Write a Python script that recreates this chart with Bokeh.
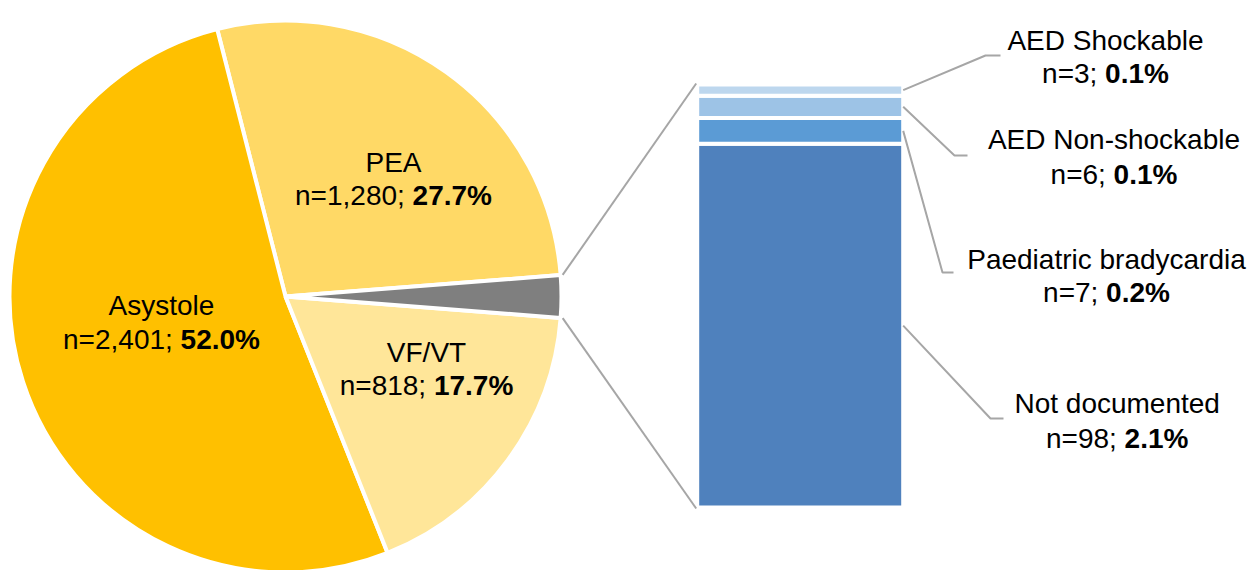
import math
from bokeh.plotting import figure
from bokeh.models import Range1d
from bokeh.core.properties import value
from bokeh.embed import file_html
from bokeh.resources import INLINE

# ---------------- data ----------------
pie_labels = ["PEA", "Asystole", "VF/VT"]
pie_counts = [1280, 2401, 818]
pie_pcts = ["27.7%", "52.0%", "17.7%"]
pie_colors = ["#FFD966", "#FFC000", "#FFE699"]

bar_labels = ["Not documented", "Paediatric bradycardia", "AED Non-shockable", "AED Shockable"]
bar_counts = [98, 7, 6, 3]
bar_pcts = ["2.1%", "0.2%", "0.1%", "0.1%"]
bar_colors = ["#4F81BD", "#5B9BD5", "#9DC3E6", "#BDD7EE"]
other_color = "#7F7F7F"

# ---------------- layout ----------------
W, H = 1253, 570
PAGE_H = 570
FONT = "Liberation Sans"
FS = 28


def Y(sy):
    return PAGE_H - sy


p = figure(width=W, height=H, x_range=Range1d(0, W), y_range=Range1d(0, H),
           output_backend="svg", toolbar_location=None, x_axis_type=None, y_axis_type=None,
           min_border=0, outline_line_color=None, background_fill_color="white")
p.grid.visible = False

# ---- pie ----
cx, cy, R = 285, Y(296), 276
total = sum(pie_counts) + sum(bar_counts)
other_ang = 2 * math.pi * sum(bar_counts) / total
a = other_ang / 2
starts, ends = [], []
for c in pie_counts:
    starts.append(a)
    a += 2 * math.pi * c / total
    ends.append(a)
p.wedge(x=[cx] * 3, y=[cy] * 3, radius=R, start_angle=starts, end_angle=ends,
        fill_color=pie_colors, line_color="white", line_width=4)
p.wedge(x=cx, y=cy, radius=R, start_angle=-other_ang / 2, end_angle=other_ang / 2,
        fill_color=other_color, line_color="white", line_width=4)

# ---- bar (own scale) ----
bar_top_s, bar_bot_s = 84, 507
bar_left, bar_right = 696.7, 902.7
tot_bar = sum(bar_counts)
k = tot_bar / (Y(bar_top_s) - Y(bar_bot_s))
p.extra_y_ranges = {"bar": Range1d(0 - Y(bar_bot_s) * k,
                                   tot_bar + (H - Y(bar_top_s)) * k)}
bottoms, tops = [], []
acc = 0
for c in bar_counts:
    bottoms.append(acc)
    acc += c
    tops.append(acc)
p.vbar(x=[(bar_left + bar_right) / 2] * 4, width=bar_right - bar_left, bottom=bottoms, top=tops,
       fill_color=bar_colors, line_color="white", line_width=4, y_range_name="bar")


def bar_to_main(v):
    return Y(bar_bot_s) + v / k


# ---- connectors pie -> bar ----
rc = R + 2
p.segment(x0=[cx + rc * math.cos(other_ang / 2), cx + rc * math.cos(-other_ang / 2)],
          y0=[cy + rc * math.sin(other_ang / 2), cy + rc * math.sin(-other_ang / 2)],
          x1=[bar_left - 1, bar_left - 1],
          y1=[bar_to_main(tot_bar) + 1, bar_to_main(0) - 1],
          line_color="#A6A6A6", line_width=2)

# ---- text helpers ----
REG = {**{d: 0.556 for d in "0123456789"}, "n": 0.556, "=": 0.584, ",": 0.278, ";": 0.278, " ": 0.278}
BOLD = {**{d: 0.556 for d in "0123456789"}, ".": 0.278, "%": 0.889}


def wid(s, table):
    return sum(table.get(ch, 0.556) for ch in s) * FS


def two_line(x, y1, y2, title, count, pct):
    # y1, y2: cap-centre screen positions
    off = 0.358 * FS - 10
    p.text(x=[x], y=[Y(y1 + off)], text=[title], text_font=value(FONT), text_font_size=f"{FS}px",
           text_align="center", text_baseline="alphabetic", text_color="#000000")
    reg = f"n={count:,}; "
    wr, wb = wid(reg, REG), wid(pct, BOLD)
    left = x - (wr + wb) / 2
    p.text(x=[left], y=[Y(y2 + off)], text=[reg], text_font=value(FONT), text_font_size=f"{FS}px",
           text_align="left", text_baseline="alphabetic", text_color="#000000")
    p.text(x=[left + wr], y=[Y(y2 + off)], text=[pct], text_font=value(FONT), text_font_size=f"{FS}px",
           text_font_style="bold", text_align="left", text_baseline="alphabetic", text_color="#000000")


# pie labels (label layout: centre x, line-1 y, line-2 y)
pie_label_pos = [(393, 162, 195), (161, 305, 339), (426, 352, 385)]
for (lx, l1, l2), lab, c, pc in zip(pie_label_pos, pie_labels, pie_counts, pie_pcts):
    two_line(lx, l1, l2, lab, c, pc)

# bar labels + leader lines
bar_label_pos = [(1116.7, 403, 437.5), (1106, 259, 291.7), (1113.5, 139, 173.7), (1105, 40, 72.5)]
elbows = [((990, 418), (1003, 418)), ((942, 272), (953, 272)), ((954, 155), (967, 155)), ((985, 55), (1000, 55))]
xs, ys = [], []
for b, t, (e1, e2) in zip(bottoms, tops, elbows):
    mid = bar_to_main((b + t) / 2)
    xs.append([bar_right, e1[0], e2[0]])
    ys.append([mid, Y(e1[1]), Y(e2[1])])
p.multi_line(xs=xs, ys=ys, line_color="#A6A6A6", line_width=2)
for (lx, l1, l2), lab, c, pc in zip(bar_label_pos, bar_labels, bar_counts, bar_pcts):
    two_line(lx, l1, l2, lab, c, pc)

open("out.html", "w").write(file_html(p, INLINE))
